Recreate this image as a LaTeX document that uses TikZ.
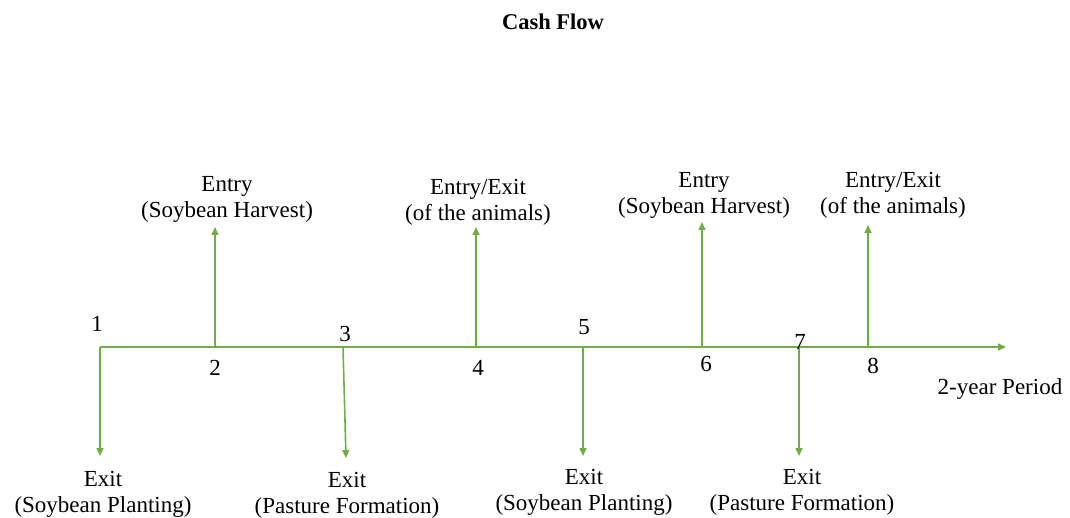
\documentclass[tikz,border=0pt]{standalone}
\usepackage{fontspec}
\setmainfont{Liberation Serif}
\usetikzlibrary{arrows.meta}
\definecolor{flowgreen}{HTML}{70AD47}
\begin{document}
\begin{tikzpicture}[x=1pt,y=-1pt,
  flow/.style={draw=flowgreen,line width=1.6pt,-{Triangle[length=8pt,width=7pt]}},
  lbl/.style={font=\fontsize{23}{26}\selectfont,align=center,inner sep=0pt},
  num/.style={font=\fontsize{23}{26}\selectfont,inner sep=0pt}]
\useasboundingbox (0,0) rectangle (1070,518);
% title
\node[font=\fontsize{22.5}{26}\selectfont\bfseries,inner sep=0pt] (title) at (553,22) {Cash Flow};
% axis
\coordinate (a0) at (100,347);
\coordinate (aend) at (1006,347);
\draw[flow] (a0) -- (aend);
% axis points
\coordinate (p1) at (100,347);
\coordinate (p2) at (215,347);
\coordinate (p3) at (343,347);
\coordinate (p4) at (476,347);
\coordinate (p5) at (583,347);
\coordinate (p6) at (702,347);
\coordinate (p7) at (799,347);
\coordinate (p8) at (868,347);
% tips
\coordinate (t1) at (100,456);
\coordinate (t2) at (215,227);
\coordinate (t3) at (346,458);
\coordinate (t4) at (476,227);
\coordinate (t5) at (583,456);
\coordinate (t6) at (702,222);
\coordinate (t7) at (799,456);
\coordinate (t8) at (868,225);
\foreach \i in {1,...,8} {\draw[flow] (p\i) -- (t\i);}
% numbers
\node[num] (n1) at (97,324) {1};
\node[num] (n2) at (215,368) {2};
\node[num] (n3) at (345,334) {3};
\node[num] (n4) at (478,368) {4};
\node[num] (n5) at (584,327) {5};
\node[num] (n6) at (706,364) {6};
\node[num] (n7) at (800,342) {7};
\node[num] (n8) at (873,366) {8};
\node[num] (period) at (1000,389) {2-year Period};
% upper labels
\node[lbl] (l2) at (227,199) {Entry\\(Soybean Harvest)};
\node[lbl] (l4) at (478,202) {Entry/Exit\\(of the animals)};
\node[lbl] (l6) at (704,195) {Entry\\(Soybean Harvest)};
\node[lbl] (l8) at (893,195) {Entry/Exit\\(of the animals)};
% lower labels
\node[lbl] (l1) at (103,494) {Exit\\(Soybean Planting)};
\node[lbl] (l3) at (347,495.5) {Exit\\(Pasture Formation)};
\node[lbl] (l5) at (584,492) {Exit\\(Soybean Planting)};
\node[lbl] (l7) at (802,492) {Exit\\(Pasture Formation)};
\end{tikzpicture}
\end{document}
